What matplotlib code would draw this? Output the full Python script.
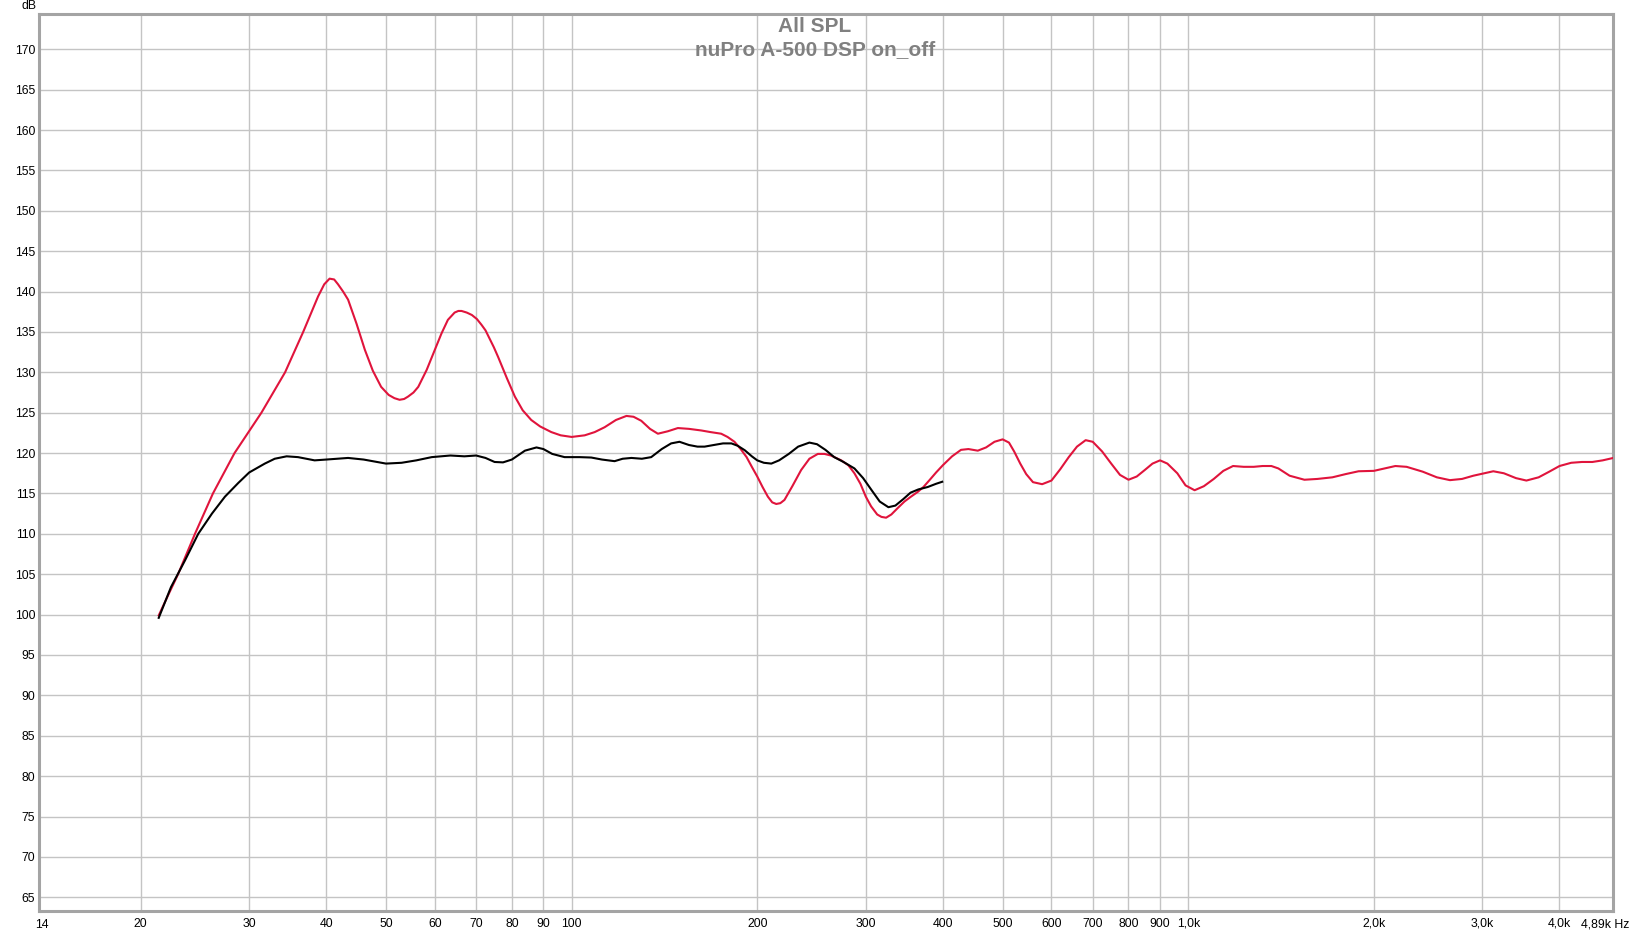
import matplotlib
matplotlib.use("Agg")
import matplotlib.pyplot as plt

plt.rcParams['font.family'] = ['Liberation Sans', 'DejaVu Sans']

# ---- data ----
red_f = [21.4, 22.1, 23.0, 24.5, 26.2, 28.4, 31.4, 34.3, 36.7, 38.8, 39.7, 40.5, 41.2, 41.8,
         42.6, 43.4, 44.8, 46.2, 47.6, 49.1, 50.5, 51.6, 52.6, 53.5, 54.3, 55.4, 56.4, 58.2,
         60.0, 61.5, 63.0, 64.6, 65.5, 66.3, 67.6, 68.9, 70.2, 71.4, 72.5, 73.6, 74.8, 76.0,
         78.5, 80.9, 83.3, 86.0, 88.9, 92.7, 96, 100, 105, 109, 113.1, 118, 122.7, 126, 129.7,
         134, 138, 143.2, 148.7, 155, 162.3, 168, 174.8, 179, 183.7, 188, 192.2, 196, 200, 204,
         208.1, 211.5, 214.7, 218, 221.4, 228, 235.6, 243, 250.8, 257, 263.3, 273.7, 281, 287.5,
         294, 300, 306, 313, 318, 323.6, 330, 338, 346.5, 355, 364.2, 372, 381, 390, 400, 414,
         428, 440, 455.7, 470, 485, 500, 512, 522, 534, 546, 560, 579.5, 600, 620, 640, 660,
         681.7, 700, 725, 750, 775, 800, 825, 850, 875, 900, 925, 960, 990, 1024, 1060, 1100,
         1140, 1182, 1230, 1277, 1320, 1364, 1400, 1460, 1543, 1620, 1713, 1800, 1889, 2000,
         2080, 2167, 2260, 2400, 2530, 2657, 2780, 2900, 3020, 3124, 3250, 3400, 3535, 3700,
         3850, 4000, 4179, 4350, 4522, 4700, 4890]
red_db = [99.9, 102.2, 105.0, 110.0, 115.0, 120.0, 125.0, 130.0, 135.0, 139.4, 140.9, 141.6, 141.5, 140.9,
          140.0, 139.0, 136.0, 132.8, 130.2, 128.2, 127.2, 126.8, 126.6, 126.7, 127.0, 127.5, 128.2, 130.3,
          132.8, 134.8, 136.5, 137.4, 137.6, 137.6, 137.4, 137.1, 136.6, 135.9, 135.2, 134.2, 133.1, 131.9,
          129.3, 127.0, 125.3, 124.1, 123.3, 122.6, 122.2, 122.0, 122.2, 122.6, 123.2, 124.1, 124.6, 124.5, 124.0,
          123.0, 122.4, 122.7, 123.1, 123.0, 122.8, 122.6, 122.4, 122.0, 121.4, 120.5, 119.5, 118.3, 117.1, 115.8,
          114.6, 113.9, 113.7, 113.8, 114.2, 115.9, 117.9, 119.3, 119.9, 119.9, 119.7, 119.1, 118.5, 117.5,
          116.2, 114.6, 113.4, 112.4, 112.1, 112.0, 112.4, 113.2, 114.0, 114.6, 115.2, 115.8, 116.7, 117.6, 118.5, 119.6,
          120.4, 120.5, 120.3, 120.7, 121.4, 121.7, 121.3, 120.2, 118.7, 117.4, 116.4, 116.15, 116.6, 118.0, 119.5, 120.8,
          121.6, 121.4, 120.2, 118.7, 117.3, 116.7, 117.1, 117.9, 118.7, 119.1, 118.7, 117.5, 116.0, 115.4, 115.9, 116.8,
          117.8, 118.4, 118.3, 118.3, 118.4, 118.4, 118.1, 117.2, 116.7, 116.8, 117.0, 117.4, 117.75, 117.8,
          118.1, 118.4, 118.3, 117.7, 117.0, 116.65, 116.8, 117.2, 117.5, 117.75, 117.5, 116.9, 116.6, 117.0,
          117.7, 118.4, 118.8, 118.9, 118.9, 119.1, 119.4]

black_f = [21.4, 22.4, 23.6, 24.8, 26.1, 27.4, 28.8, 30, 31.8, 33.0, 34.5, 36, 38.3, 40, 43.4, 46,
           50, 53, 56, 59.3, 63.6, 67, 70, 72.5, 75, 77.4, 80, 84, 87.7, 90, 93, 97.4, 103, 107.6,
           112, 117.4, 121, 125, 130, 134.6, 140, 145, 149.6, 155, 160, 164.3, 170, 176, 181.6,
           186, 190.9, 196, 200, 205, 210.8, 217, 225, 233, 243, 250, 258, 266.6, 276, 287.5, 297,
           306.6, 316, 326.4, 335, 345, 354.5, 365, 378, 390, 399]
black_db = [99.6, 103.4, 106.7, 110.0, 112.5, 114.6, 116.3, 117.6, 118.7, 119.3, 119.6, 119.5, 119.1, 119.2, 119.4, 119.2,
            118.7, 118.8, 119.1, 119.5, 119.7, 119.6, 119.7, 119.4, 118.9, 118.85, 119.2, 120.3, 120.7, 120.5, 119.9, 119.5, 119.5, 119.45,
            119.2, 119.0, 119.3, 119.4, 119.3, 119.5, 120.5, 121.2, 121.4, 121.0, 120.8, 120.8, 121.0, 121.2, 121.2,
            120.9, 120.35, 119.6, 119.1, 118.8, 118.7, 119.1, 119.9, 120.8, 121.3, 121.1, 120.4, 119.5, 118.9, 118.1, 116.9,
            115.4, 114.0, 113.3, 113.5, 114.3, 115.1, 115.5, 115.8, 116.2, 116.45]

x_ticks = [20, 30, 40, 50, 60, 70, 80, 90, 100, 200, 300, 400, 500, 600, 700, 800, 900,
           1000, 2000, 3000, 4000]
x_labels = ['20', '30', '40', '50', '60', '70', '80', '90', '100', '200', '300', '400', '500',
            '600', '700', '800', '900', '1,0k', '2,0k', '3,0k', '4,0k']
y_ticks = list(range(65, 171, 5))

W, H = 1632, 932
fig = plt.figure(figsize=(W / 100, H / 100), dpi=100)
ax = fig.add_axes([39.3 / W, 1 - 911 / H, (1613.3 - 39.3) / W, (911 - 14) / H])

ax.set_xscale('log')
ax.set_xlim(13.7, 4890)
ax.set_ylim(63.3, 174.37)

ax.plot(red_f, red_db, color='#E0143C', lw=1.5, zorder=3, solid_joinstyle='round')
ax.plot(black_f, black_db, color='#000000', lw=1.5, zorder=4, solid_joinstyle='round')

FS = 8.8
ax.set_xticks(x_ticks)
ax.set_xticklabels(x_labels)
ax.xaxis.set_minor_locator(matplotlib.ticker.NullLocator())
ax.set_yticks(y_ticks)
ax.set_yticklabels([str(v) for v in y_ticks])
ax.tick_params(axis='both', length=0, labelsize=FS, colors='black')
ax.tick_params(axis='x', pad=11.5)
ax.tick_params(axis='y', pad=3)
for lab in ax.get_xticklabels():
    lab.set_verticalalignment('baseline')
ax.grid(True, color='#C4C4C4', lw=1.0, zorder=0)
ax.set_axisbelow(True)
for s in ax.spines.values():
    s.set_color('#A4A4A4')
    s.set_linewidth(2.2)

fig.text(42.3 / W, 1 - 927.5 / H, '14', ha='center', va='baseline', fontsize=FS)
fig.text(1629 / W, 1 - 927.5 / H, '4,89k Hz', ha='right', va='baseline', fontsize=FS)
fig.text(29 / W, 1 - 6 / H, 'dB', ha='center', va='center', fontsize=FS)

fig.text(815 / W, 1 - 27 / H, 'All SPL', ha='center', va='center', fontsize=15,
         fontweight='bold', color='#808080')
fig.text(815 / W, 1 - 50 / H, 'nuPro A-500 DSP on_off', ha='center', va='center', fontsize=15,
         fontweight='bold', color='#808080')

fig.savefig('out.png', dpi=100)
